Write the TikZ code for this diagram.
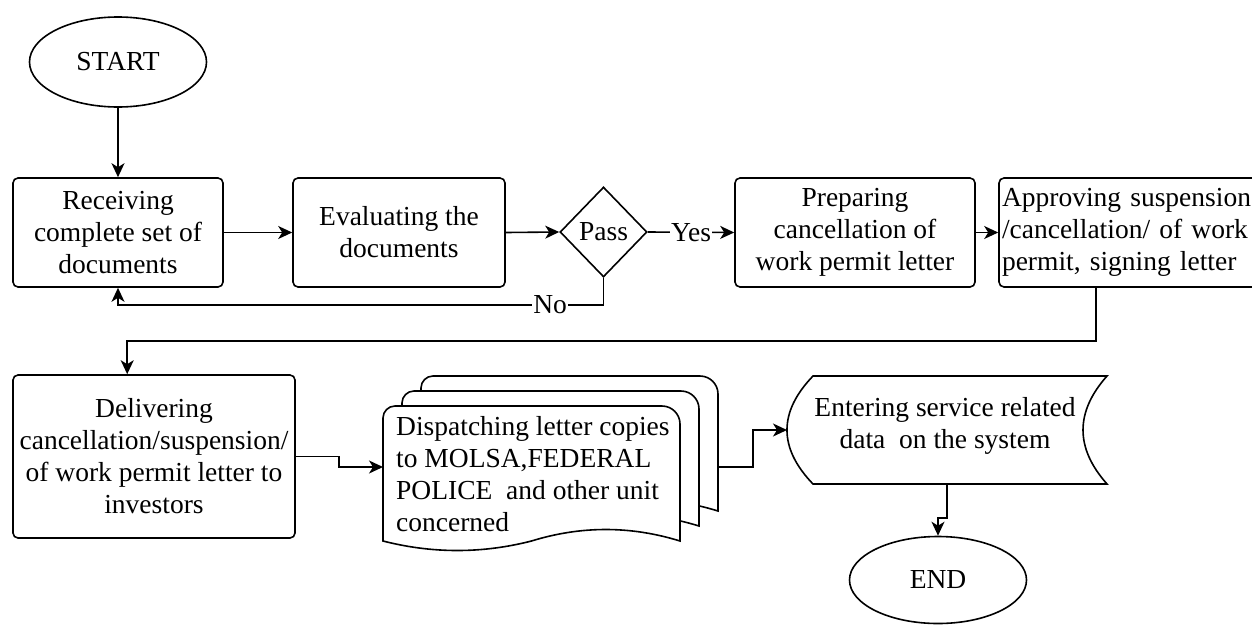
\documentclass[tikz,border=0pt]{standalone}
\usepackage{fontspec}
\setmainfont{Liberation Serif}
\usetikzlibrary{arrows.meta,shapes.geometric,calc}

% one sheet of a multi-page document symbol, local origin at its top-left corner
\tikzset{docpage/.pic={
  \draw[stroke, fill=white] (0,135) -- (0,12) .. controls (0,5.4) and (5.4,0) .. (12,0)
    -- (279,0) .. controls (288.9,0) and (297,8.1) .. (297,18) -- (297,135)
    .. controls (247.5,119.67) and (198,119.67) .. (148.5,135)
    .. controls (99,147.67) and (49.5,147.67) .. (0,135) -- cycle;
}}

\begin{document}
\begin{tikzpicture}[x=1pt,y=-1pt,
  every node/.style={font=\fontsize{27.5}{32}\selectfont, text=black},
  stroke/.style={line width=1.6pt, draw=black},
  arr/.style={stroke, -{Stealth[length=14pt,width=13pt,inset=4pt]}},
  proc/.style={stroke, rectangle, rounded corners=5pt, fill=white, inner sep=3pt, align=center},
  term/.style={stroke, ellipse, minimum width=177pt, minimum height=90pt, inner sep=0pt},
  decision/.style={stroke, diamond, minimum width=87pt, minimum height=90pt, inner sep=0pt},
  lbl/.style={fill=white, inner sep=1pt},
]
\useasboundingbox (0,0) rectangle (1252,624);

% terminals
\node[term] (start) at (118,62) {START};
\node[term, minimum height=87pt] (end) at (938,580) {END};

% first row
\node[proc, minimum width=210pt, minimum height=109pt] (b1) at (118,232.5) {Receiving\\complete set of\\documents};
\node[proc, minimum width=212pt, minimum height=109pt] (b2) at (399,232.5) {Evaluating the\\documents};
\node[decision] (pass) at (603.5,232) {Pass};
\node[proc, minimum width=240pt, minimum height=109pt] (b3) at (855,232.5) {Preparing\\cancellation of\\work permit letter};
\node[proc, minimum height=109pt, text width=257pt, align=left, inner xsep=3pt] (b4) at (1130.5,232.5) {Approving suspension\\/cancellation/ of work\\permit, signing letter};

% second row
\node[proc, minimum width=282pt, minimum height=163pt] (b5) at (154,456.5) {Delivering\\cancellation/suspension/\\of work permit letter to\\investors};

% multi-document symbol
\pic at (421,376) {docpage};
\pic at (402,391) {docpage};
\pic at (383,406) {docpage};
\node[align=left, anchor=west, inner sep=0pt] (doctext) at (396,474) {Dispatching letter copies\\to MOLSA,FEDERAL\\POLICE\ \ and other unit\\concerned};
\coordinate (docin) at (383,467);
\coordinate (docout) at (718,467);

% stored data symbol
\draw[stroke, fill=white] (813,376) -- (1107,376) .. controls (1075,412) and (1075,448) .. (1107,484)
  -- (813,484) .. controls (778.3,448) and (778.3,412) .. (813,376) -- cycle;
\node[align=center, inner sep=0pt] (sttext) at (945,426) {Entering service related\\data\ \ on the system};
\coordinate (stin) at (787,430);
\coordinate (stout) at (947,484);

% connectors
\draw[arr] (start.south) -- (b1.north);
\draw[arr] (b1.east) -- (b2.west);
\draw[arr] (b2.east) -- (pass.west);
\draw[arr] (pass.east) -- node[lbl]{Yes} (b3.west);
\draw[arr] (b3.east) -- (b4.west);
\coordinate (nojoin) at (118,305);
\draw[arr] (pass.south) |- node[lbl, pos=0.555]{No} (nojoin) -- (b1.south);
\draw[arr] ([xshift=98pt]b4.south west) -- ++(0,53) -| ([xshift=115pt]b5.north west);
\draw[arr] (b5.east) -- ++(43,0) |- (docin);
\draw[arr] (docout) -- ++(35,0) |- (stin);
\draw[arr] (stout) -- ++(0,34) -| (end.north);
\end{tikzpicture}
\end{document}
